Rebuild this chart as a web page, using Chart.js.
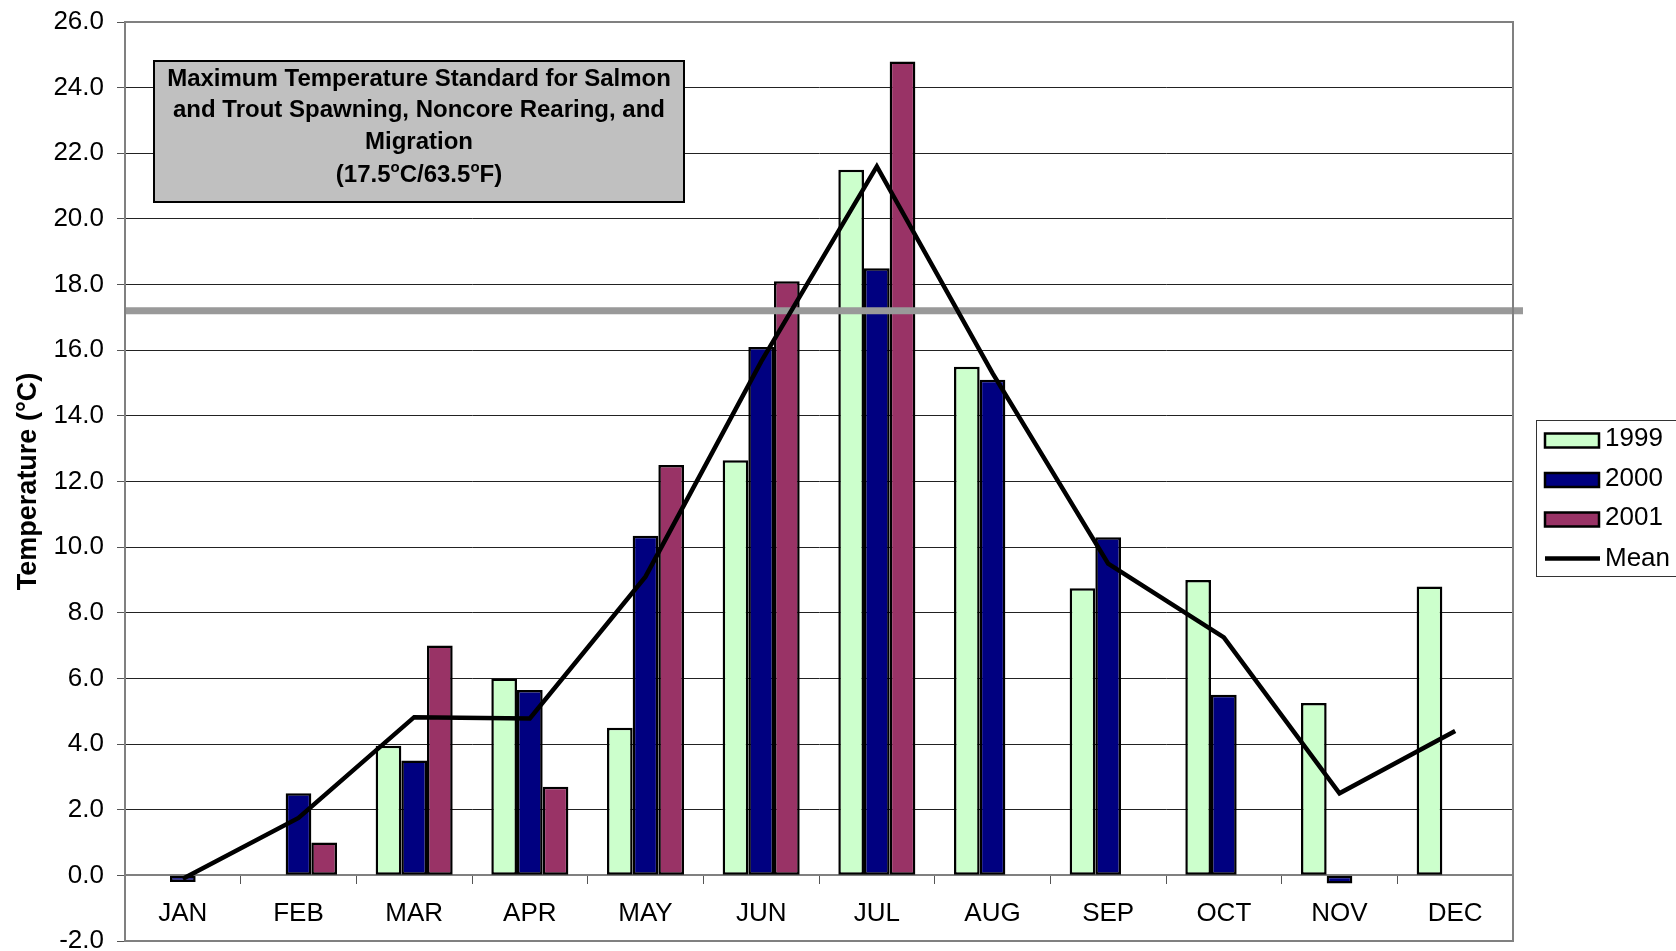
<!DOCTYPE html>
<html><head><meta charset="utf-8">
<script src="https://cdn.jsdelivr.net/npm/chart.js@4/dist/chart.umd.min.js"></script>
<style>html,body{margin:0;padding:0;background:#fff;overflow:hidden}canvas{display:block}</style>
</head><body>
<canvas id="c" width="1676" height="951"></canvas>
<script>
const months = ['JAN','FEB','MAR','APR','MAY','JUN','JUL','AUG','SEP','OCT','NOV','DEC'];
const seriesNames = ['1999','2000','2001','Mean'];
const t1999 = [null, null, 3.95, 6.0, 4.5, 12.65, 21.5, 15.5, 8.75, 9.0, 5.25, 8.8];
const t2000 = [-0.2, 2.5, 3.5, 5.65, 10.35, 16.1, 18.5, 15.1, 10.3, 5.5, -0.25, null];
const t2001 = [null, 1.0, 7.0, 2.7, 12.5, 18.1, 24.8, null, null, null, null, null];
const tMean = [-0.1, 1.75, 4.82, 4.78, 9.1, 15.65, 21.6, 15.3, 9.5, 7.25, 2.5, 4.4];
const yMin = -2, yMax = 26, yStep = 2;
const standardValue = 17.2;
const yTitle = 'Temperature (°C)';
const boxLines = ['Maximum Temperature Standard for Salmon', 'and Trout Spawning, Noncore Rearing, and', 'Migration'];
const boxLastLine = [['(17.5', false], ['o', true], ['C/63.5', false], ['o', true], ['F)', false]];

const FONT = '"Liberation Sans", Arial, Helvetica, sans-serif';
Chart.defaults.font.family = FONT;

const decor = {
  id: 'decor',
  beforeDatasetDraw(chart, args) {
    if (args.meta.type !== 'line') return;
    const {ctx, chartArea} = chart;
    const y = chart.scales.y.getPixelForValue(standardValue);
    ctx.save();
    ctx.strokeStyle = '#999999';
    ctx.lineWidth = 7;
    ctx.beginPath();
    ctx.moveTo(chartArea.left, y);
    ctx.lineTo(chartArea.right + 10, y);
    ctx.stroke();
    ctx.restore();
  },
  afterDraw(chart) {
    const {ctx, chartArea} = chart;
    ctx.save();
    ctx.strokeStyle = '#808080';
    ctx.lineWidth = 2;
    ctx.strokeRect(chartArea.left, chartArea.top, chartArea.right - chartArea.left, chartArea.bottom - chartArea.top);

    // annotation box
    const bx = 154, by = 61, bw = 530, bh = 141;
    ctx.fillStyle = '#C0C0C0';
    ctx.fillRect(bx, by, bw, bh);
    ctx.strokeStyle = '#000';
    ctx.lineWidth = 2;
    ctx.strokeRect(bx, by, bw, bh);
    ctx.fillStyle = '#000';
    ctx.textAlign = 'center';
    ctx.textBaseline = 'middle';
    ctx.font = 'bold 24px ' + FONT;
    const cx = bx + bw / 2;
    boxLines.forEach((t, i) => ctx.fillText(t, cx, 79 + i * 31.5));
    const big = 'bold 24px ' + FONT, small = 'bold 15px ' + FONT;
    let total = 0;
    boxLastLine.forEach(([t, sup]) => { ctx.font = sup ? small : big; total += ctx.measureText(t).width; });
    let x = cx - total / 2;
    ctx.textAlign = 'left';
    const ly = 79 + 3 * 31.5 + 2;
    boxLastLine.forEach(([t, sup]) => {
      ctx.font = sup ? small : big;
      ctx.fillText(t, x, sup ? ly - 8 : ly);
      x += ctx.measureText(t).width;
    });

    // legend
    const lx = 1536, ly0 = 420, lw = 150, lh = 156;
    ctx.fillStyle = '#fff';
    ctx.fillRect(lx, ly0, lw, lh);
    ctx.strokeStyle = '#333';
    ctx.lineWidth = 1;
    ctx.strokeRect(lx + 0.5, ly0 + 0.5, lw, lh);
    ctx.font = '26px ' + FONT;
    ctx.textBaseline = 'middle';
    ctx.textAlign = 'left';
    chart.data.datasets.forEach((ds, i) => {
      const iy = 440 + i * 39.5;
      if (ds.type === 'line') {
        ctx.strokeStyle = ds.borderColor;
        ctx.lineWidth = 4.5;
        ctx.beginPath();
        ctx.moveTo(1545, iy);
        ctx.lineTo(1600, iy);
        ctx.stroke();
      } else {
        ctx.fillStyle = ds.backgroundColor;
        ctx.fillRect(1545, iy - 6.5, 54, 14);
        ctx.strokeStyle = '#000';
        ctx.lineWidth = 2.5;
        ctx.strokeRect(1545, iy - 6.5, 54, 14);
      }
      ctx.fillStyle = '#000';
      ctx.fillText(ds.label, 1605, iy - (ds.type === 'line' ? 0 : 1));
    });
    ctx.restore();
  }
};

const barCommon = {
  type: 'bar',
  borderColor: '#000',
  borderWidth: 2.5,
  borderSkipped: false,
  categoryPercentage: 0.666,
  barPercentage: 1.0,
  order: 1
};

new Chart(document.getElementById('c'), {
  type: 'bar',
  data: {
    labels: months,
    datasets: [
      Object.assign({}, barCommon, {label: seriesNames[0], data: t1999, backgroundColor: '#CCFFCC'}),
      Object.assign({}, barCommon, {label: seriesNames[1], data: t2000, backgroundColor: '#000080'}),
      Object.assign({}, barCommon, {label: seriesNames[2], data: t2001, backgroundColor: '#993366'}),
      {type: 'line', label: seriesNames[3], data: tMean, borderColor: '#000', backgroundColor: '#000',
       borderWidth: 4.5, pointRadius: 0, tension: 0, fill: false, order: 0, borderJoinStyle: 'miter'}
    ]
  },
  options: {
    responsive: false,
    animation: false,
    devicePixelRatio: 1,
    layout: {padding: {left: 0, right: 163, top: 22, bottom: 10}},
    plugins: {legend: {display: false}, tooltip: {enabled: false}},
    scales: {
      x: {
        position: {y: 0},
        offset: true,
        grid: {display: true, drawOnChartArea: false, drawTicks: true, tickLength: 8, color: '#555', offset: true},
        border: {display: true, color: '#808080', width: 2},
        ticks: {font: {size: 26}, color: '#000', padding: 15, maxRotation: 0, autoSkip: false},
        afterFit(s) { s.height = 0; s.paddingLeft = 0; s.paddingRight = 0; }
      },
      y: {
        min: yMin, max: yMax,
        ticks: {stepSize: yStep, callback: v => Number(v).toFixed(1), font: {size: 26}, color: '#000', padding: 13},
        grid: {color: '#222', lineWidth: 1, tickLength: 8, tickColor: '#555', drawTicks: true},
        border: {display: true, color: '#808080', width: 2},
        title: {display: true, text: yTitle, font: {size: 27, weight: 'bold'}, color: '#000', padding: {top: 12, bottom: 0}},
        afterFit(s) { s.width = 125; s.paddingTop = 0; s.paddingBottom = 0; }
      }
    }
  },
  plugins: [decor]
});
</script>
</body></html>
